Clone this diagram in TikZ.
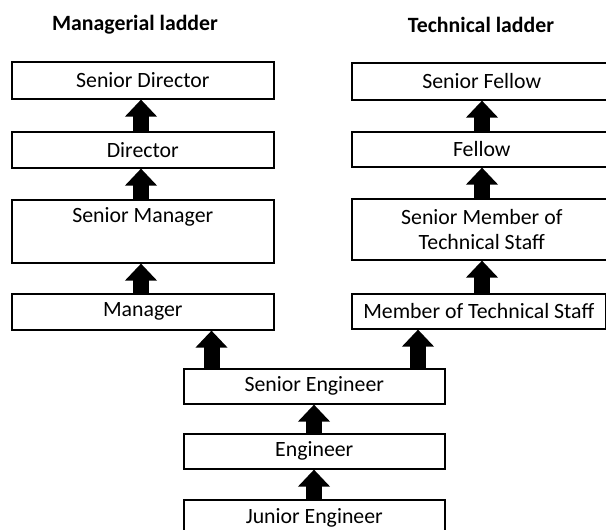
\documentclass[tikz,border=0pt]{standalone}
\usepackage{fontspec}
\setmainfont{Carlito}
\usetikzlibrary{arrows.meta}
\begin{document}
\begin{tikzpicture}[x=1pt,y=-1pt,
  box/.style={draw=black, line width=1.6pt, fill=white, rectangle, inner sep=0pt,
    align=center, font=\fontsize{21.8}{25}\selectfont, anchor=north west},
  up/.style={line width=16pt, -{Triangle[width=31pt,length=17pt]}, black},
  title/.style={font=\fontsize{21.8}{25}\selectfont\bfseries}]
\useasboundingbox[fill=white] (0,0) rectangle (606,530);

\node[title] (tm) at (135,25) {Managerial ladder};
\node[title] (tt) at (481,25) {Technical ladder};

% managerial ladder
\node[box, minimum width=262pt, minimum height=37pt] (sd) at (11,61) {Senior Director};
\node[box, minimum width=262pt, minimum height=36pt] (dir) at (11,131) {Director};
\node[box, minimum width=262pt, minimum height=63pt] (sm) at (11,199) {Senior Manager\\ \strut};
\node[box, minimum width=262pt, minimum height=36pt] (mgr) at (11,293) {Manager};

% technical ladder
\node[box, minimum width=260pt, minimum height=37pt] (sf) at (351,62) {Senior Fellow};
\node[box, minimum width=260pt, minimum height=35pt] (fel) at (351,131) {Fellow};
\node[box, minimum width=260pt, minimum height=61pt] (smts) at (351,198) {Senior Member of\\ Technical Staff};
\node[box, minimum width=254pt, minimum height=35pt] (mots) at (351,293) {Member of Technical Staff};

% common trunk
\node[box, minimum width=261pt, minimum height=35pt] (se) at (183,368) {Senior Engineer};
\node[box, minimum width=261pt, minimum height=35pt] (eng) at (183,433) {Engineer};
\node[box, minimum width=261pt, minimum height=36pt] (jr) at (183,499) {Junior Engineer};

\coordinate (xl) at (141,0);
\coordinate (xr) at (482,0);
\coordinate (xm) at (211.5,0);
\coordinate (xt) at (418,0);
\coordinate (xb) at (314,0);

\draw[up] (dir.north -| xl) -- (sd.south -| xl);
\draw[up] (sm.north -| xl) -- (dir.south -| xl);
\draw[up] (mgr.north -| xl) -- (sm.south -| xl);

\draw[up] (fel.north -| xr) -- (sf.south -| xr);
\draw[up] (smts.north -| xr) -- (fel.south -| xr);
\draw[up] (mots.north -| xr) -- (smts.south -| xr);

\draw[up] (se.north -| xm) -- (mgr.south -| xm);
\draw[up] (se.north -| xt) -- (mots.south -| xt);

\draw[up] (eng.north -| xb) -- (se.south -| xb);
\draw[up] (jr.north -| xb) -- (eng.south -| xb);
\end{tikzpicture}
\end{document}
